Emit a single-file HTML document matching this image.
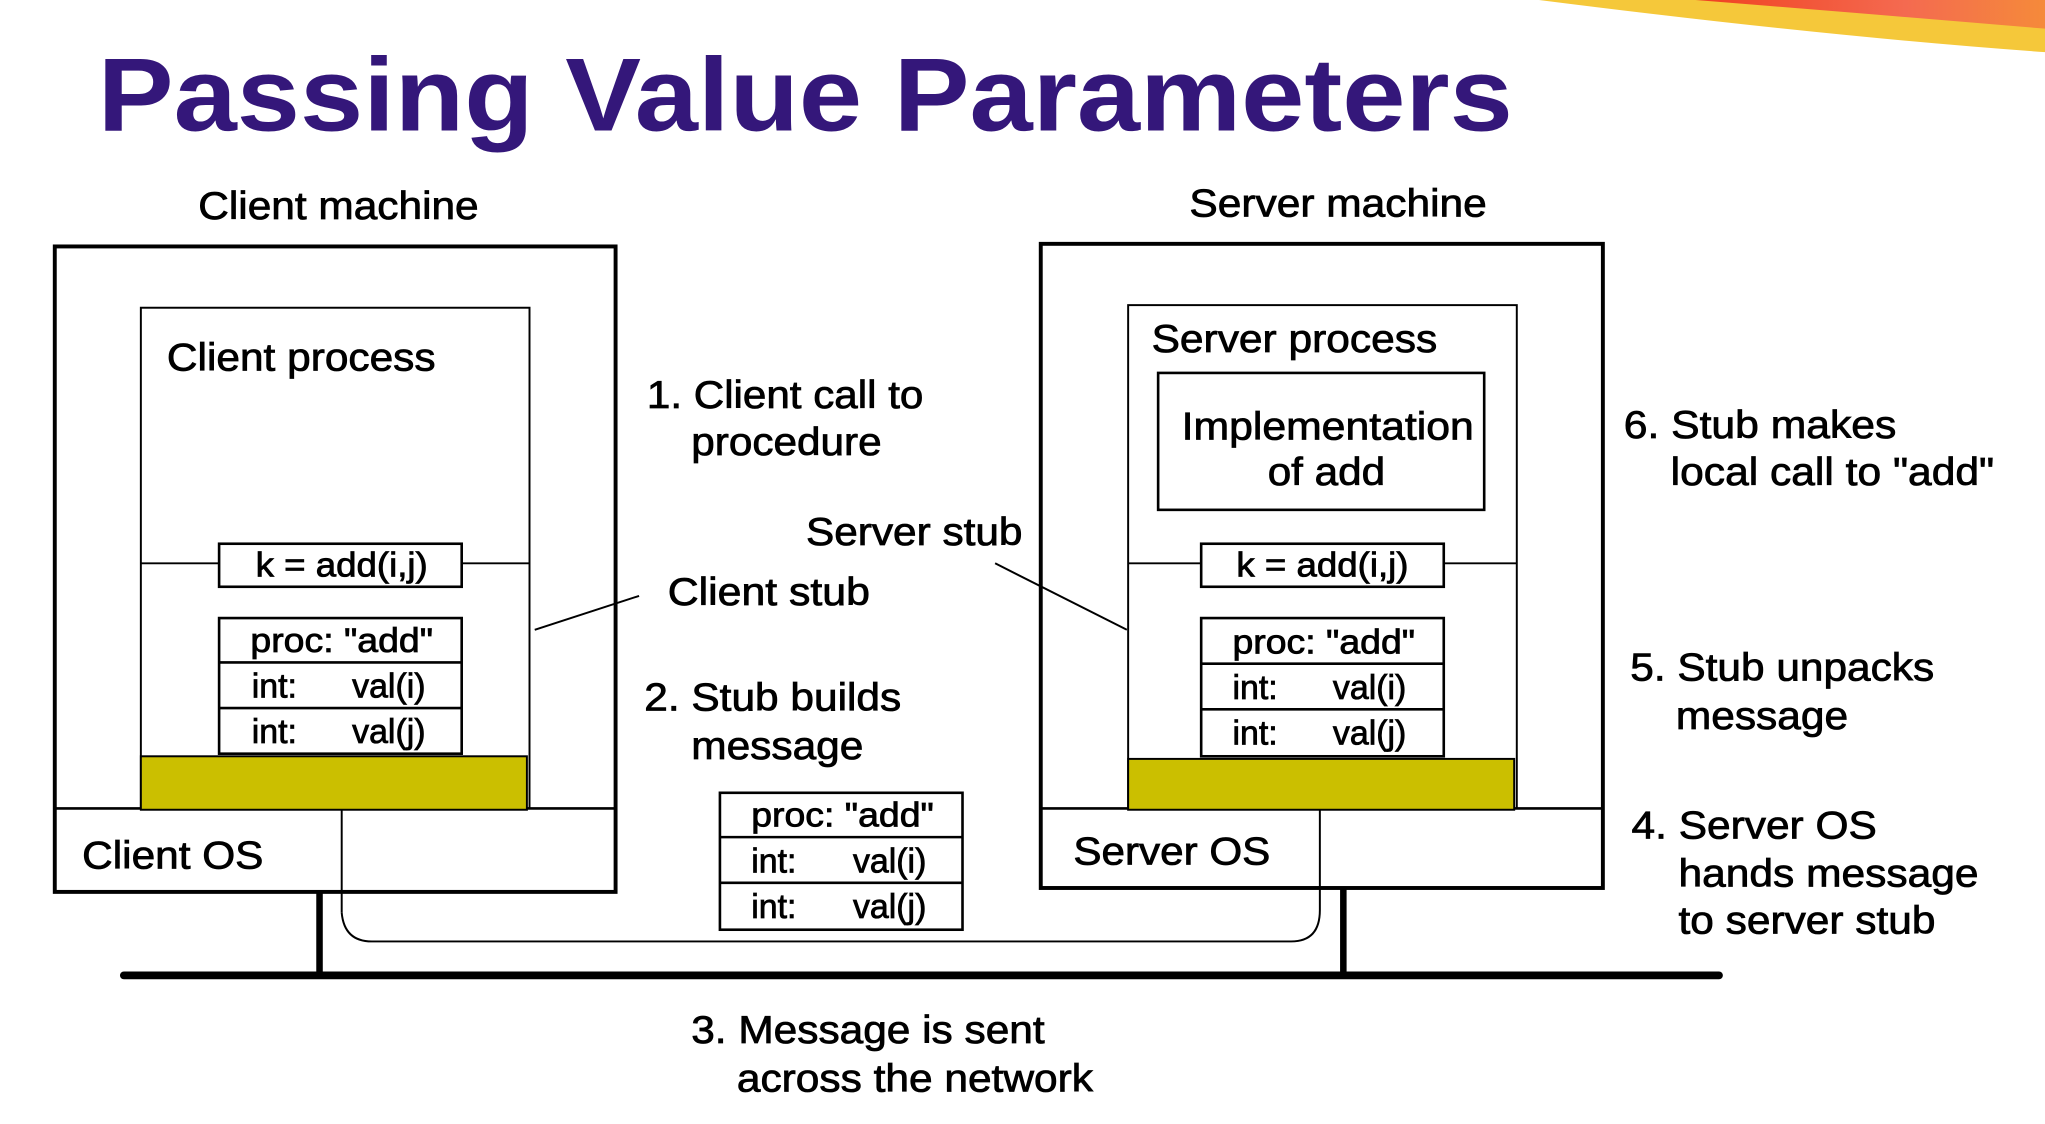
<!DOCTYPE html>
<html><head><meta charset="utf-8"><style>
html,body{margin:0;padding:0;background:#fff;}
svg{display:block;}
text{font-family:"Liberation Sans",Arial,sans-serif;fill:#000;}
g.t text{stroke:#000;stroke-width:0.6;}
</style></head><body>
<svg width="2045" height="1124" viewBox="0 0 1568 862" preserveAspectRatio="none" xmlns="http://www.w3.org/2000/svg">
<defs>
<linearGradient id="sw" x1="0" y1="0" x2="1" y2="0">
<stop offset="0" stop-color="#f04020"/><stop offset="0.6" stop-color="#f46a50"/><stop offset="1" stop-color="#f58a3a"/>
</linearGradient>
</defs>
<path d="M1180,0 L1568,0 L1568,40 Q1400,28 1180,0 Z" fill="#f5c83a"/>
<path d="M1300,0 L1568,0 L1568,22 Q1450,12 1300,0 Z" fill="url(#sw)"/>
<text x="75" y="100" font-size="80" font-weight="bold" style="fill:#34177a" textLength="1085" lengthAdjust="spacingAndGlyphs">Passing Value Parameters</text>

<g fill="none" stroke="#000">
<rect x="42" y="189" width="430" height="495" stroke-width="3"/>
<rect x="108" y="236" width="298" height="384" stroke-width="1.5"/>
<line x1="108" y1="432" x2="168" y2="432" stroke-width="1.5"/>
<line x1="354" y1="432" x2="406" y2="432" stroke-width="1.5"/>
<rect x="168" y="417" width="186" height="33" stroke-width="2"/>
<rect x="168" y="474" width="186" height="104" stroke-width="2"/>
<line x1="168" y1="508" x2="354" y2="508" stroke-width="2"/>
<line x1="168" y1="543" x2="354" y2="543" stroke-width="2"/>
<line x1="42" y1="620" x2="472" y2="620" stroke-width="2"/>
<line x1="262" y1="620" x2="262" y2="700" stroke-width="1.5"/>

<rect x="798" y="187" width="431" height="494" stroke-width="3"/>
<rect x="865" y="234" width="298" height="386" stroke-width="1.5"/>
<rect x="888" y="286" width="250" height="105" stroke-width="2"/>
<line x1="865" y1="432" x2="921" y2="432" stroke-width="1.5"/>
<line x1="1107" y1="432" x2="1163" y2="432" stroke-width="1.5"/>
<rect x="921" y="417" width="186" height="33" stroke-width="2"/>
<rect x="921" y="474" width="186" height="106" stroke-width="2"/>
<line x1="921" y1="509" x2="1107" y2="509" stroke-width="2"/>
<line x1="921" y1="544" x2="1107" y2="544" stroke-width="2"/>
<line x1="798" y1="620" x2="1229" y2="620" stroke-width="2"/>
<line x1="1012" y1="620" x2="1012" y2="681" stroke-width="1.5"/>

<rect x="552" y="608" width="186" height="105" stroke-width="2"/>
<line x1="552" y1="642" x2="738" y2="642" stroke-width="2"/>
<line x1="552" y1="677" x2="738" y2="677" stroke-width="2"/>

<path d="M262,700 Q264,722 285,722 L990,722 Q1012,722 1012,698 L1012,681" stroke-width="1.5"/>
<line x1="245" y1="684" x2="245" y2="748" stroke-width="5"/>
<line x1="1030" y1="681" x2="1030" y2="748" stroke-width="5"/>
<line x1="95" y1="748" x2="1318" y2="748" stroke-width="6" stroke-linecap="round"/>
<line x1="410" y1="483" x2="490" y2="457" stroke-width="1.5"/>
<line x1="763" y1="432" x2="864" y2="483" stroke-width="1.5"/>
</g>
<rect x="108" y="580" width="296" height="41" fill="#cbbf00" stroke="#000" stroke-width="1.5"/>
<rect x="865" y="582" width="296" height="39" fill="#cbbf00" stroke="#000" stroke-width="1.5"/>

<g font-size="30" class="t">
<text x="152" y="168" textLength="215" lengthAdjust="spacingAndGlyphs">Client machine</text>
<text x="912" y="166" textLength="228" lengthAdjust="spacingAndGlyphs">Server machine</text>
<text x="128" y="284" textLength="206" lengthAdjust="spacingAndGlyphs">Client process</text>
<text x="883" y="270" textLength="219" lengthAdjust="spacingAndGlyphs">Server process</text>
<text x="906" y="337" textLength="224" lengthAdjust="spacingAndGlyphs">Implementation</text>
<text x="972" y="372" textLength="90" lengthAdjust="spacingAndGlyphs">of add</text>
<text x="63" y="666" textLength="139" lengthAdjust="spacingAndGlyphs">Client OS</text>
<text x="823" y="663" textLength="151" lengthAdjust="spacingAndGlyphs">Server OS</text>
<text x="496" y="313" textLength="212" lengthAdjust="spacingAndGlyphs">1. Client call to</text>
<text x="530" y="349" textLength="146" lengthAdjust="spacingAndGlyphs">procedure</text>
<text x="618" y="418" textLength="166" lengthAdjust="spacingAndGlyphs">Server stub</text>
<text x="512" y="464" textLength="155" lengthAdjust="spacingAndGlyphs">Client stub</text>
<text x="494" y="545" textLength="197" lengthAdjust="spacingAndGlyphs">2. Stub builds</text>
<text x="530" y="582" textLength="132" lengthAdjust="spacingAndGlyphs">message</text>
<text x="1245" y="336" textLength="209" lengthAdjust="spacingAndGlyphs">6. Stub makes</text>
<text x="1281" y="372" textLength="248" lengthAdjust="spacingAndGlyphs">local call to "add"</text>
<text x="1250" y="522" textLength="233" lengthAdjust="spacingAndGlyphs">5. Stub unpacks</text>
<text x="1285" y="559" textLength="132" lengthAdjust="spacingAndGlyphs">message</text>
<text x="1251" y="643" textLength="188" lengthAdjust="spacingAndGlyphs">4. Server OS</text>
<text x="1287" y="680" textLength="230" lengthAdjust="spacingAndGlyphs">hands message</text>
<text x="1287" y="716" textLength="197" lengthAdjust="spacingAndGlyphs">to server stub</text>
<text x="530" y="800" textLength="271" lengthAdjust="spacingAndGlyphs">3. Message is sent</text>
<text x="565" y="837" textLength="273" lengthAdjust="spacingAndGlyphs">across the network</text>
</g>
<g font-size="26" class="t">
<text x="196" y="442" textLength="132" lengthAdjust="spacingAndGlyphs">k = add(i,j)</text>
<text x="192" y="500" textLength="140" lengthAdjust="spacingAndGlyphs">proc: "add"</text>
<text x="193" y="535">int:</text><text x="270" y="535">val(i)</text>
<text x="193" y="570">int:</text><text x="270" y="570">val(j)</text>
<text x="948" y="442" textLength="132" lengthAdjust="spacingAndGlyphs">k = add(i,j)</text>
<text x="945" y="501" textLength="140" lengthAdjust="spacingAndGlyphs">proc: "add"</text>
<text x="945" y="536">int:</text><text x="1022" y="536">val(i)</text>
<text x="945" y="571">int:</text><text x="1022" y="571">val(j)</text>
<text x="576" y="634" textLength="140" lengthAdjust="spacingAndGlyphs">proc: "add"</text>
<text x="576" y="669">int:</text><text x="654" y="669">val(i)</text>
<text x="576" y="704">int:</text><text x="654" y="704">val(j)</text>
</g>
</svg>
</body></html>
